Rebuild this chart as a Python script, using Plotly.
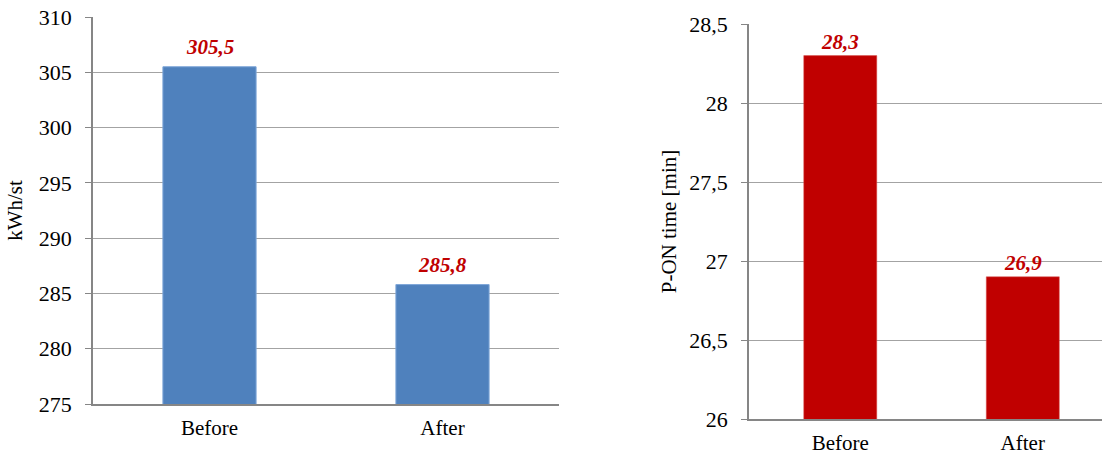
import plotly.graph_objects as go

categories = ["Before", "After"]
energy_kwh_st = [305.5, 285.8]
pon_time_min = [28.3, 26.9]

energy_ticks = [275, 280, 285, 290, 295, 300, 305, 310]
pon_ticks = [26, 26.5, 27, 27.5, 28, 28.5]

FONT = "Times New Roman, Liberation Serif, serif"
GRID = "#A3A3A3"
AXIS = "#868686"
LABEL_RED = "#C00000"


def fmt(v):
    return f"{v:.1f}".replace(".", ",")


fig = go.Figure()

fig.add_trace(go.Bar(
    x=categories, y=energy_kwh_st, width=0.4,
    marker=dict(color="#4F81BD", line=dict(color="#7EA6D8", width=1)),
    xaxis="x", yaxis="y", showlegend=False, hoverinfo="skip",
))
fig.add_trace(go.Bar(
    x=categories, y=pon_time_min, width=0.4,
    marker=dict(color="#C00000", line=dict(color="#D9534F", width=0.5)),
    xaxis="x2", yaxis="y2", showlegend=False, hoverinfo="skip",
))

annotations = []
for c, v in zip(categories, energy_kwh_st):
    annotations.append(dict(
        x=c, y=v, xref="x", yref="y", text=f"<b><i>{fmt(v)}</i></b>",
        showarrow=False, yanchor="middle", yshift=20,
        font=dict(family=FONT, size=21, color=LABEL_RED),
    ))
for c, v in zip(categories, pon_time_min):
    annotations.append(dict(
        x=c, y=v, xref="x2", yref="y2", text=f"<b><i>{fmt(v)}</i></b>",
        showarrow=False, yanchor="middle", yshift=14,
        font=dict(family=FONT, size=21, color=LABEL_RED),
    ))

W, H = 1102, 456


def xdom(a, b):
    return [a / W, b / W]


def ydom(top, bottom):
    return [1 - bottom / H, 1 - top / H]


def ycommon():
    return dict(
        showgrid=True, gridcolor=GRID, gridwidth=1.3,
        showline=True, linecolor=AXIS, linewidth=1.5,
        ticks="outside", ticklen=6, tickcolor=AXIS, tickwidth=1.3,
        tickfont=dict(family=FONT, size=22, color="#000000"),
        ticklabelstandoff=9, zeroline=False, automargin=False,
    )


def xcommon():
    return dict(
        showline=True, linecolor=AXIS, linewidth=1.5, ticks="",
        tickfont=dict(family=FONT, size=21, color="#000000"),
        ticklabelstandoff=4, showgrid=False, zeroline=False, automargin=False,
    )


fig.update_layout(
    width=W, height=H,
    margin=dict(l=0, r=0, t=0, b=0),
    paper_bgcolor="white", plot_bgcolor="white",
    separators=", ",
    font=dict(family=FONT, color="#000000", size=21),
    xaxis=dict(domain=xdom(93, 559), range=[-0.5, 1.5], anchor="y", **xcommon()),
    yaxis=dict(domain=ydom(17, 404), range=[275, 310], anchor="x",
               tickvals=energy_ticks,
               title=dict(text="kWh/st", font=dict(family=FONT, size=21), standoff=10),
               **ycommon()),
    xaxis2=dict(domain=xdom(749, 1102), range=[-0.5, 1.434], anchor="y2", **xcommon()),
    yaxis2=dict(domain=ydom(24, 419), range=[26, 28.5], anchor="x2",
                tickvals=pon_ticks,
                title=dict(text="P-ON time [min]", font=dict(family=FONT, size=21), standoff=7),
                **ycommon()),
    annotations=annotations,
    bargap=0.6,
)

fig.write_html("out.html")
